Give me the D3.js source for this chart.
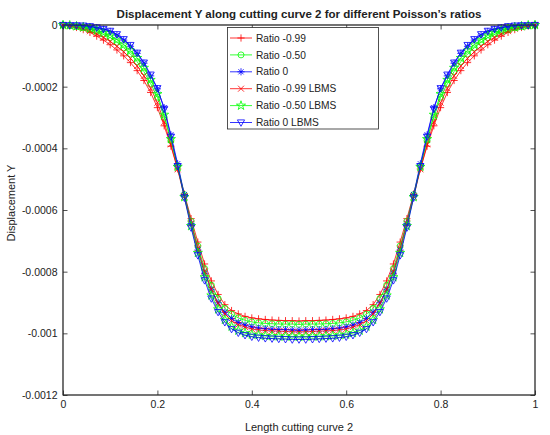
<!DOCTYPE html>
<html><head><meta charset="utf-8">
<script src="https://cdn.jsdelivr.net/npm/d3@7/dist/d3.min.js"></script>
<style>
body{margin:0;background:#fff}
text{font-family:"Liberation Sans",Arial,Helvetica,sans-serif;fill:#222}
</style>
</head><body>
<svg id="c" width="550" height="435"></svg>
<script>
// ---- data ----
const lengthPos = [0,0.0143,0.0286,0.0429,0.0571,0.0714,0.0857,0.1,0.1143,0.1286,0.1429,0.1571,0.1714,0.1857,0.2,0.2143,0.2286,0.2429,0.2571,0.2714,0.2857,0.3,0.3143,0.3286,0.3429,0.3571,0.3714,0.3857,0.4,0.4143,0.4286,0.4429,0.4571,0.4714,0.4857,0.5,
  0.5143,0.5286,0.5429,0.5571,0.5714,0.5857,0.6,0.6143,0.6286,0.6429,0.6571,0.6714,0.6857,0.7,0.7143,0.7286,0.7429,0.7571,0.7714,0.7857,0.8,0.8143,0.8286,0.8429,0.8571,0.8714,0.8857,0.9,0.9143,0.9286,0.9429,0.9571,0.9714,0.9857,1];

const ratioM099 = [0,-3e-6,-8e-6,-15e-6,-24e-6,-36e-6,-49e-6,-64e-6,-81e-6,-100e-6,-122e-6,-148e-6,-180e-6,-219e-6,-268e-6,-327e-6,-393e-6,-467e-6,-548e-6,-628e-6,-704e-6,-775e-6,-830e-6,-874e-6,-907e-6,-926e-6,-937e-6,-945e-6,-950e-6,-953e-6,-955e-6,-957e-6,-958e-6,-959e-6,-959e-6,-960e-6,
  -959e-6,-959e-6,-958e-6,-957e-6,-955e-6,-953e-6,-950e-6,-945e-6,-937e-6,-926e-6,-907e-6,-874e-6,-830e-6,-775e-6,-704e-6,-628e-6,-548e-6,-467e-6,-393e-6,-327e-6,-268e-6,-219e-6,-180e-6,-148e-6,-122e-6,-100e-6,-81e-6,-64e-6,-49e-6,-36e-6,-24e-6,-15e-6,-8e-6,-3e-6,0];

const ratioM050 = [0,-2e-6,-5e-6,-9e-6,-14e-6,-21e-6,-30e-6,-41e-6,-56e-6,-74e-6,-94e-6,-119e-6,-151e-6,-190e-6,-234e-6,-299e-6,-374e-6,-458e-6,-550e-6,-637e-6,-717e-6,-790e-6,-844e-6,-887e-6,-919e-6,-938e-6,-950e-6,-958e-6,-963e-6,-966e-6,-968e-6,-969e-6,-970e-6,-970e-6,-970e-6,-971e-6,
  -970e-6,-970e-6,-970e-6,-969e-6,-968e-6,-966e-6,-963e-6,-958e-6,-950e-6,-938e-6,-919e-6,-887e-6,-844e-6,-790e-6,-717e-6,-637e-6,-550e-6,-458e-6,-374e-6,-299e-6,-234e-6,-190e-6,-151e-6,-119e-6,-94e-6,-74e-6,-56e-6,-41e-6,-30e-6,-21e-6,-14e-6,-9e-6,-5e-6,-2e-6,0];

const ratio0 = [0,-1e-6,-2e-6,-3e-6,-6e-6,-9e-6,-14e-6,-21e-6,-33e-6,-49e-6,-69e-6,-92e-6,-124e-6,-165e-6,-207e-6,-268e-6,-356e-6,-450e-6,-550e-6,-644e-6,-730e-6,-805e-6,-859e-6,-901e-6,-932e-6,-952e-6,-965e-6,-973e-6,-979e-6,-983e-6,-985e-6,-987e-6,-988e-6,-988e-6,-989e-6,-990e-6,
  -989e-6,-988e-6,-988e-6,-987e-6,-985e-6,-983e-6,-979e-6,-973e-6,-965e-6,-952e-6,-932e-6,-901e-6,-859e-6,-805e-6,-730e-6,-644e-6,-550e-6,-450e-6,-356e-6,-268e-6,-207e-6,-165e-6,-124e-6,-92e-6,-69e-6,-49e-6,-33e-6,-21e-6,-14e-6,-9e-6,-6e-6,-3e-6,-2e-6,-1e-6,0];

const ratioM099LBMS = [0,-3e-6,-7e-6,-12e-6,-20e-6,-29e-6,-40e-6,-53e-6,-69e-6,-87e-6,-108e-6,-133e-6,-165e-6,-205e-6,-252e-6,-315e-6,-387e-6,-468e-6,-557e-6,-644e-6,-725e-6,-800e-6,-857e-6,-903e-6,-937e-6,-959e-6,-972e-6,-980e-6,-986e-6,-989e-6,-991e-6,-992e-6,-993e-6,-994e-6,-995e-6,-995e-6,
  -995e-6,-994e-6,-993e-6,-992e-6,-991e-6,-989e-6,-986e-6,-980e-6,-972e-6,-959e-6,-937e-6,-903e-6,-857e-6,-800e-6,-725e-6,-644e-6,-557e-6,-468e-6,-387e-6,-315e-6,-252e-6,-205e-6,-165e-6,-133e-6,-108e-6,-87e-6,-69e-6,-53e-6,-40e-6,-29e-6,-20e-6,-12e-6,-7e-6,-3e-6,0];

const ratioM050LBMS = [0,-1e-6,-4e-6,-7e-6,-11e-6,-17e-6,-25e-6,-34e-6,-48e-6,-64e-6,-83e-6,-107e-6,-139e-6,-178e-6,-224e-6,-291e-6,-370e-6,-460e-6,-558e-6,-652e-6,-739e-6,-818e-6,-877e-6,-922e-6,-956e-6,-978e-6,-991e-6,-999e-6,-1004e-6,-1006e-6,-1008e-6,-1009e-6,-1010e-6,-1010e-6,-1010e-6,-1011e-6,
  -1010e-6,-1010e-6,-1010e-6,-1009e-6,-1008e-6,-1006e-6,-1004e-6,-999e-6,-991e-6,-978e-6,-956e-6,-922e-6,-877e-6,-818e-6,-739e-6,-652e-6,-558e-6,-460e-6,-370e-6,-291e-6,-224e-6,-178e-6,-139e-6,-107e-6,-83e-6,-64e-6,-48e-6,-34e-6,-25e-6,-17e-6,-11e-6,-7e-6,-4e-6,-1e-6,0];

const ratio0LBMS = [0,-1e-6,-1e-6,-2e-6,-4e-6,-8e-6,-13e-6,-19e-6,-30e-6,-46e-6,-65e-6,-90e-6,-122e-6,-161e-6,-205e-6,-272e-6,-362e-6,-458e-6,-560e-6,-657e-6,-747e-6,-828e-6,-887e-6,-931e-6,-964e-6,-986e-6,-998e-6,-1006e-6,-1011e-6,-1014e-6,-1016e-6,-1017e-6,-1018e-6,-1019e-6,-1020e-6,-1020e-6,
  -1020e-6,-1019e-6,-1018e-6,-1017e-6,-1016e-6,-1014e-6,-1011e-6,-1006e-6,-998e-6,-986e-6,-964e-6,-931e-6,-887e-6,-828e-6,-747e-6,-657e-6,-560e-6,-458e-6,-362e-6,-272e-6,-205e-6,-161e-6,-122e-6,-90e-6,-65e-6,-46e-6,-30e-6,-19e-6,-13e-6,-8e-6,-4e-6,-2e-6,-1e-6,-1e-6,0];

const seriesNames = ["Ratio -0.99","Ratio -0.50","Ratio 0","Ratio -0.99 LBMS","Ratio -0.50 LBMS","Ratio 0 LBMS"];
const xTicks = [0,0.2,0.4,0.6,0.8,1];
const xTickLabels = ["0","0.2","0.4","0.6","0.8","1"];
const yTicks = [0,-0.0002,-0.0004,-0.0006,-0.0008,-0.001,-0.0012];
const yTickLabels = ["0","-0.0002","-0.0004","-0.0006","-0.0008","-0.001","-0.0012"];

// ---- styles ----
const seriesData = [ratioM099, ratioM050, ratio0, ratioM099LBMS, ratioM050LBMS, ratio0LBMS];
const colors = ["#ff0000","#00ff00","#0000ff","#ff0000","#00ff00","#0000ff"];
const markers = ["plus","circle","asterisk","cross","star","triangleDown"];

function markerPath(type){
  switch(type){
    case "plus": return "M-3.6,0H3.6M0,-3.6V3.6";
    case "cross": return "M-3,-3L3,3M-3,3L3,-3";
    case "asterisk": return "M-3.6,0H3.6M0,-3.6V3.6M-2.6,-2.6L2.6,2.6M-2.6,2.6L2.6,-2.6";
    case "circle": return "M3,0A3,3 0 1,1 -3,0A3,3 0 1,1 3,0Z";
    case "triangleDown": return "M-3.6,-2.6L3.6,-2.6L0,3.8Z";
    case "star": return d3.symbol(d3.symbolStar, 26)();
  }
}

const svg = d3.select("#c");
const L=63,R=535,T=25,B=395;
const x = d3.scaleLinear().domain([0,1]).range([L,R]);
const y = d3.scaleLinear().domain([-0.0012,0]).range([B,T]);
const axisColor="#262626";

svg.append("rect").attr("x",L).attr("y",T).attr("width",R-L).attr("height",B-T)
  .attr("fill","#fff").attr("stroke",axisColor).attr("stroke-width",0.8);

function styleAxis(g){
  g.select(".domain").remove();
  g.selectAll(".tick line").attr("stroke",axisColor).attr("stroke-width",0.8);
  g.selectAll(".tick text").attr("fill","#222").style("font-size","10.5px")
    .style("font-family",'"Liberation Sans",Arial,sans-serif');
}
const gx = svg.append("g").attr("transform",`translate(0,${B})`)
  .call(d3.axisBottom(x).tickValues(xTicks).tickFormat((d,i)=>xTickLabels[i]).tickSizeInner(-4.5).tickSizeOuter(0).tickPadding(6));
styleAxis(gx);
const gxt = svg.append("g").attr("transform",`translate(0,${T})`)
  .call(d3.axisTop(x).tickValues(xTicks).tickFormat("").tickSizeInner(-4.5).tickSizeOuter(0));
styleAxis(gxt);
const gy = svg.append("g").attr("transform",`translate(${L},0)`)
  .call(d3.axisLeft(y).tickValues(yTicks).tickFormat((d,i)=>yTickLabels[i]).tickSizeInner(-4.5).tickSizeOuter(0).tickPadding(5.5));
styleAxis(gy);
const gyr = svg.append("g").attr("transform",`translate(${R},0)`)
  .call(d3.axisRight(y).tickValues(yTicks).tickFormat("").tickSizeInner(-4.5).tickSizeOuter(0));
styleAxis(gyr);

// series
const line = d3.line().x((d,i)=>x(lengthPos[i])).y(d=>y(d));
const plot = svg.append("g");
seriesData.forEach((vals,k)=>{
  const g = plot.append("g");
  g.append("path").attr("d",line(vals)).attr("fill","none")
    .attr("stroke",colors[k]).attr("stroke-width",0.8);
  g.selectAll("path.m").data(vals).enter().append("path").attr("class","m")
    .attr("transform",(d,i)=>`translate(${x(lengthPos[i])},${y(d)})`)
    .attr("d",markerPath(markers[k])).attr("fill","none")
    .attr("stroke",colors[k]).attr("stroke-width",0.8);
});

svg.append("rect").attr("x",L).attr("y",T).attr("width",R-L).attr("height",B-T)
  .attr("fill","none").attr("stroke",axisColor).attr("stroke-width",0.8);

// legend
const lg = svg.append("g");
lg.append("rect").attr("x",227.5).attr("y",27.5).attr("width",151).attr("height",101.5)
  .attr("fill","#fff").attr("stroke",axisColor).attr("stroke-width",0.8);
seriesNames.forEach((name,k)=>{
  const yy = 38 + k*16.9;
  lg.append("line").attr("x1",230).attr("x2",252).attr("y1",yy).attr("y2",yy)
    .attr("stroke",colors[k]).attr("stroke-width",0.8);
  lg.append("path").attr("transform",`translate(241,${yy})`).attr("d",markerPath(markers[k]))
    .attr("fill","none").attr("stroke",colors[k]).attr("stroke-width",0.8);
  lg.append("text").attr("x",256).attr("y",yy).attr("dy","0.36em")
    .style("font-size","10.2px").text(name);
});

// title & labels
const title = svg.append("text").attr("x",(L+R)/2).attr("y",14).attr("dy","0.36em")
  .attr("text-anchor","middle").style("font-weight","bold").style("font-size","11px")
  .text("Displacement Y along cutting curve 2 for different Poisson’s ratios");
const tw = title.node().getComputedTextLength();
title.style("font-size",(11*365/tw).toFixed(2)+"px");

svg.append("text").attr("x",(L+R)/2).attr("y",427).attr("dy","0.36em")
  .attr("text-anchor","middle").style("font-size","11px").text("Length cutting curve 2");
svg.append("text").attr("transform",`translate(11,203) rotate(-90)`).attr("dy","0.36em")
  .attr("text-anchor","middle").style("font-size","11px").text("Displacement Y");
</script>
</body></html>
